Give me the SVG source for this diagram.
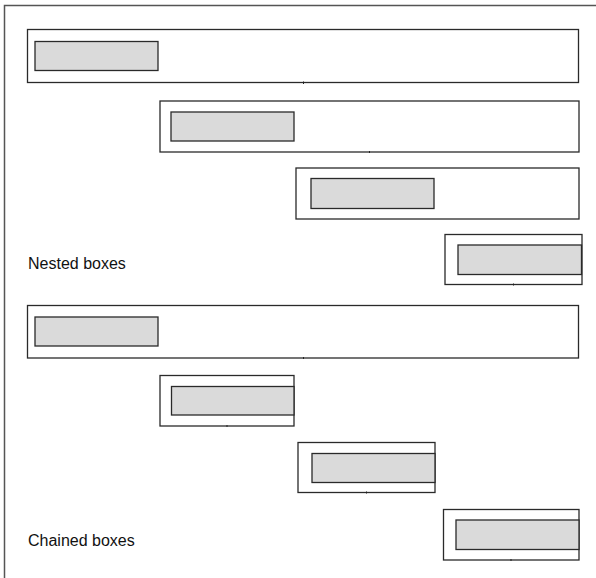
<svg xmlns="http://www.w3.org/2000/svg" width="596" height="578" viewBox="0 0 596 578">
<style>
.frame{fill:#fff;stroke:#555;stroke-width:1.5}
.outer{fill:#fff;stroke:#2a2a2a;stroke-width:1.3}
.inner{fill:#dadada;stroke:#2a2a2a;stroke-width:1.3}
.tick{stroke:#222;stroke-width:1}
.label{font-family:"Liberation Sans",Arial,sans-serif;font-size:16px;fill:#111}
</style>
<rect class="frame" x="4.5" y="5.5" width="620" height="620"/>
<g id="nested-label"><text class="label" x="28" y="269">Nested boxes</text></g>
<g id="chained-label"><text class="label" x="28" y="545.5">Chained boxes</text></g>
<g id="nested">
<g id="n1"><rect class="outer" x="27.5" y="29.5" width="551" height="53"/><rect class="inner" x="35" y="41.5" width="123" height="29"/></g>
<g id="n2"><rect class="outer" x="160" y="101" width="419" height="51"/><rect class="inner" x="171" y="112" width="123" height="29"/></g>
<g id="n3"><rect class="outer" x="296" y="168" width="283" height="51"/><rect class="inner" x="311" y="178.5" width="123" height="30"/></g>
<g id="n4"><rect class="outer" x="445" y="234.5" width="137" height="50"/><rect class="inner" x="458" y="245" width="123.5" height="29.5"/></g>
</g>
<g id="chained">
<g id="c1"><rect class="outer" x="27.5" y="305.5" width="551" height="52.5"/><rect class="inner" x="35" y="317" width="123" height="29"/></g>
<g id="c2"><rect class="outer" x="160" y="375.5" width="134" height="50.5"/><rect class="inner" x="171.5" y="386.5" width="122.5" height="28.5"/></g>
<g id="c3"><rect class="outer" x="298" y="442.5" width="137" height="50"/><rect class="inner" x="312" y="453.5" width="123" height="29"/></g>
<g id="c4"><rect class="outer" x="443.5" y="509.5" width="135.5" height="50.5"/><rect class="inner" x="456" y="520" width="123" height="29.5"/></g>
</g>
<g id="connectors">
<line class="tick" x1="303.5" y1="81.5" x2="303.5" y2="84"/>
<line class="tick" x1="369.5" y1="151" x2="369.5" y2="153"/>
<line class="tick" x1="513.5" y1="283.5" x2="513.5" y2="285.5"/>
<line class="tick" x1="303.5" y1="357" x2="303.5" y2="359"/>
<line class="tick" x1="227" y1="425" x2="227" y2="427"/>
<line class="tick" x1="366.5" y1="491.5" x2="366.5" y2="493.5"/>
<line class="tick" x1="511" y1="559" x2="511" y2="561"/>
</g>
</svg>
